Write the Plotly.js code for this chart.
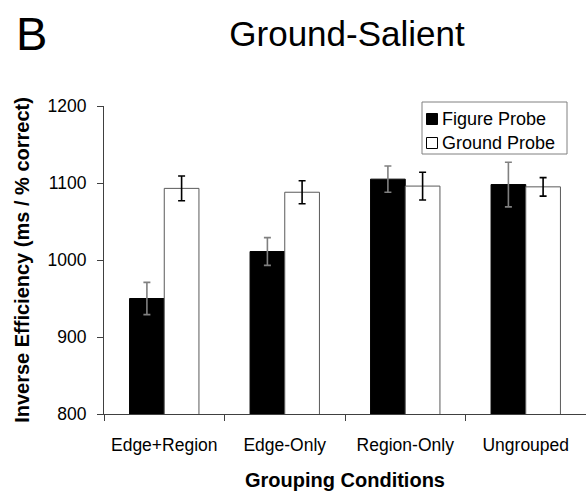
<!DOCTYPE html>
<html>
<head>
<meta charset="utf-8">
<script src="https://cdn.plot.ly/plotly-3.0.1.min.js"></script>
<style>html,body{margin:0;padding:0;background:#fff;}#chart{width:586px;height:494px;}</style>
</head>
<body>
<div id="chart"></div>
<script>
const categories = ["Edge+Region", "Edge-Only", "Region-Only", "Ungrouped"];
const seriesNames = ["Figure Probe", "Ground Probe"];
const figureValues = [950, 1011, 1105, 1098];
const figureErrors = [21, 18, 17, 29];
const groundValues = [1093, 1088, 1096, 1095];
const groundErrors = [16, 15, 18, 12];
const yTicks = [800, 900, 1000, 1100, 1200];

const FONT = "Liberation Sans, Arial, sans-serif";
const L = 104, R = 586, T = 106, B = 414;
const px = x => (x - L) / (R - L);
const py = y => (B - y) / (B - T);

const traces = [
  {
    type: "bar", name: seriesNames[0], x: categories, y: figureValues,
    marker: {color: "#000000", line: {color: "#000000", width: 1}},
    error_y: {type: "data", array: figureErrors, visible: true, color: "#808080", thickness: 1.6, width: 3.5}
  },
  {
    type: "bar", name: seriesNames[1], x: categories, y: groundValues,
    marker: {color: "#ffffff", line: {color: "#5a5a5a", width: 1}},
    error_y: {type: "data", array: groundErrors, visible: true, color: "#000000", thickness: 1.6, width: 3.5}
  }
];

const shapes = [
  {type: "rect", xref: "paper", yref: "paper", x0: px(422), x1: px(567), y0: py(154), y1: py(102),
   line: {color: "#808080", width: 1}, fillcolor: "#ffffff", layer: "above"},
  {type: "rect", xref: "paper", yref: "paper", x0: px(426.5), x1: px(437.5), y0: py(124.5), y1: py(113.5),
   line: {color: "#000000", width: 1}, fillcolor: "#000000", layer: "above"},
  {type: "rect", xref: "paper", yref: "paper", x0: px(426.5), x1: px(437.5), y0: py(148.5), y1: py(137.5),
   line: {color: "#000000", width: 1}, fillcolor: "#ffffff", layer: "above"}
];

const annotations = [
  {text: "B", xref: "paper", yref: "paper", x: px(14), y: py(34), xanchor: "left", yanchor: "middle",
   showarrow: false, font: {family: FONT, size: 47, color: "#000"}},
  {text: seriesNames[0], xref: "paper", yref: "paper", x: px(440), y: py(119), xanchor: "left", yanchor: "middle",
   showarrow: false, font: {family: FONT, size: 18, color: "#000"}},
  {text: seriesNames[1], xref: "paper", yref: "paper", x: px(440), y: py(143), xanchor: "left", yanchor: "middle",
   showarrow: false, font: {family: FONT, size: 18, color: "#000"}}
];

const layout = {
  width: 586, height: 494,
  margin: {l: L, r: 586 - R, t: T, b: 494 - B, pad: 0},
  paper_bgcolor: "#fff", plot_bgcolor: "#fff",
  showlegend: false,
  barmode: "group", bargap: 0.424, bargroupgap: 0,
  font: {family: FONT, color: "#000"},
  title: {text: "Ground-Salient", font: {family: FONT, size: 35, color: "#000"},
          x: px(347), xref: "paper", xanchor: "center", y: 1 - 34 / 494, yanchor: "middle"},
  xaxis: {
    type: "category", tickson: "boundaries", ticks: "outside", ticklen: 6, tickcolor: "#404040",
    showline: true, linecolor: "#404040", linewidth: 1, showgrid: false, zeroline: false,
    tickfont: {family: FONT, size: 17.5, color: "#000"}, ticklabelstandoff: 15,
    title: {text: "<b>Grouping Conditions</b>", font: {family: FONT, size: 20, color: "#000"}, standoff: 18}
  },
  yaxis: {
    range: [800, 1200], tickvals: yTicks, ticks: "outside", ticklen: 6, tickcolor: "#404040",
    showline: true, linecolor: "#404040", linewidth: 1, showgrid: false, zeroline: false,
    tickfont: {family: FONT, size: 17.5, color: "#000"}, ticklabelstandoff: 7,
    title: {text: "<b>Inverse Efficiency (ms / % correct)</b>", font: {family: FONT, size: 20, color: "#000"}, standoff: 12}
  },
  shapes: shapes,
  annotations: annotations
};

Plotly.newPlot("chart", traces, layout, {displayModeBar: false, staticPlot: true});
</script>
</body>
</html>
